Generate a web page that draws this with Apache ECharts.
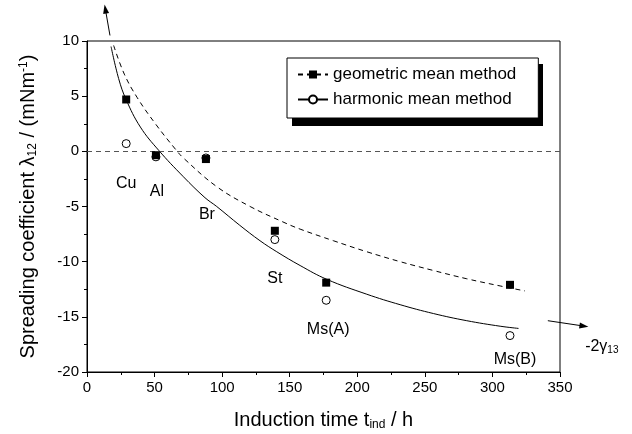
<!DOCTYPE html>
<html><head><meta charset="utf-8">
<script src="https://cdn.jsdelivr.net/npm/echarts@6/dist/echarts.min.js"></script>
<style>html,body{margin:0;padding:0;background:#fff}#c{width:632px;height:434px}</style>
</head><body><div id="c"></div>
<script>
// ---- data ----
const materials = ['Cu', 'Al', 'Br', 'St', 'Ms(A)', 'Ms(B)'];
const inductionTime = [29, 51, 88, 139, 177, 313];
const geometricValues = [4.7, -0.35, -0.7, -7.2, -11.9, -12.1];
const harmonicValues = [0.7, -0.5, -0.6, -8.0, -13.5, -16.7];

const geometricFitX = [19.7, 27.6, 37, 50.6, 65.4, 71.3, 96, 120.7, 145, 157.7, 182.3, 207, 231.7, 256.3, 281, 305.7, 324];
const geometricFitY = [9.6, 7.0, 4.9, 2.5, 0.2, -0.6, -3.2, -5.0, -6.4, -7.05, -8.1, -9.1, -10.0, -10.8, -11.55, -12.2, -12.65];
const harmonicFitX = [17.8, 23.4, 28.9, 39.5, 53, 71.3, 87.3, 96, 113, 128, 140.4, 157.7, 177.4, 207, 231.7, 256.3, 281, 305.7, 319.3];
const harmonicFitY = [9.5, 6.6, 4.7, 2.2, 0.1, -2.3, -4.2, -5.0, -6.7, -8.1, -9.1, -10.35, -11.6, -12.95, -13.9, -14.7, -15.35, -15.85, -16.05];

const xTicks = [0, 50, 100, 150, 200, 250, 300, 350];
const yTicks = [-20, -15, -10, -5, 0, 5, 10];

const seriesNames = ['geometric mean method', 'harmonic mean method'];

// ---- layout / style ----
const FONT = '"Liberation Sans", Arial, Helvetica, sans-serif';
const labelOffsets = [[0, 40], [1, 35], [1, 57], [0, 39], [2, 29], [5, 24]];

const zip = (xs, ys) => xs.map((x, i) => [x, ys[i]]);

const chart = echarts.init(document.getElementById('c'), null, {renderer: 'canvas'});

const axisCommon = {
  type: 'value',
  axisLine: {show: true, onZero: false, lineStyle: {color: '#000', width: 1}},
  axisTick: {show: true, inside: false, length: 5, lineStyle: {color: '#000'}},
  minorTick: {show: true, splitNumber: 2, length: 3, lineStyle: {color: '#000'}},
  splitLine: {show: false},
  minorSplitLine: {show: false},
  axisLabel: {color: '#000', fontFamily: FONT, fontSize: 15, margin: 8, hideOverlap: false}
};

chart.setOption({
  animation: false,
  backgroundColor: '#fff',
  grid: {left: 87, right: 72, top: 41, bottom: 62, show: true, borderColor: '#000', borderWidth: 1, backgroundColor: 'transparent', containLabel: false, outerBoundsMode: 'none'},
  xAxis: Object.assign({}, axisCommon, {
    min: xTicks[0], max: xTicks[xTicks.length - 1], interval: xTicks[1] - xTicks[0],
    name: 'Induction time t{sub|ind} / h',
    nameLocation: 'middle', nameGap: 38,
    nameTextStyle: {color: '#000', fontFamily: FONT, fontSize: 20, rich: {sub: {color: '#000', fontFamily: FONT, fontSize: 12, verticalAlign: 'bottom', padding: [9, 0, 0, 0]}}}
  }),
  yAxis: Object.assign({}, axisCommon, {
    min: yTicks[0], max: yTicks[yTicks.length - 1], interval: yTicks[1] - yTicks[0],
    name: 'Spreading coefficient λ{sub|12} / (mNm{sup|-1})',
    nameLocation: 'middle', nameGap: 48,
    nameTextStyle: {color: '#000', fontFamily: FONT, fontSize: 20, rich: {
      sub: {color: '#000', fontFamily: FONT, fontSize: 12, verticalAlign: 'bottom', padding: [9, 0, 0, 0]},
      sup: {color: '#000', fontFamily: FONT, fontSize: 12, verticalAlign: 'top', padding: [0, 0, 9, 0]}
    }}
  }),
  legend: {
    show: true,
    z: 5,
    data: seriesNames,
    left: 287, top: 58,
    orient: 'vertical',
    padding: [8, 22, 10, 10],
    itemWidth: 30, itemHeight: 10, itemGap: 8,
    backgroundColor: '#fff',
    borderColor: '#000', borderWidth: 1, borderRadius: 0,
    textStyle: {color: '#000', fontFamily: FONT, fontSize: 17},
    selectedMode: false
  },
  series: [
    {
      name: seriesNames[0], type: 'line', data: zip(geometricFitX, geometricFitY),
      smooth: 0.4, showSymbol: false, symbol: 'rect', symbolSize: 8,
      lineStyle: {color: '#000', width: 1, type: [5, 4]}, itemStyle: {color: '#000'},
      z: 3,
      markLine: {
        silent: true, symbol: 'none', label: {show: false},
        lineStyle: {color: '#555', width: 1, type: [5, 4]},
        data: [{yAxis: 0}]
      }
    },
    {
      name: seriesNames[1], type: 'line', data: zip(harmonicFitX, harmonicFitY),
      smooth: 0.4, showSymbol: false, symbol: 'emptyCircle', symbolSize: 8,
      lineStyle: {color: '#000', width: 1, type: 'solid'}, itemStyle: {color: '#000'},
      z: 3
    },
    {
      name: seriesNames[1], type: 'scatter', data: zip(inductionTime, harmonicValues),
      symbol: 'circle', symbolSize: 8,
      itemStyle: {color: '#fff', borderColor: '#000', borderWidth: 1, opacity: 1},
      z: 4,
      label: {
        show: true, position: 'inside', color: '#000', fontFamily: FONT, fontSize: 16,
        formatter: p => materials[p.dataIndex]
      },
      labelLayout: p => ({dx: labelOffsets[p.dataIndex][0], dy: labelOffsets[p.dataIndex][1]})
    },
    {
      name: seriesNames[0], type: 'scatter', data: zip(inductionTime, geometricValues),
      symbol: 'rect', symbolSize: 8,
      itemStyle: {color: '#000', opacity: 1},
      z: 5
    }
  ]
});

// ---- annotation arrows (placed through the chart's own scales) ----
function px(v) { return chart.convertToPixel({gridIndex: 0}, v); }
function arrow(p0, p1) {
  const dx = p1[0] - p0[0], dy = p1[1] - p0[1], L = Math.hypot(dx, dy);
  const ux = dx / L, uy = dy / L, hl = 9, hw = 3;
  const bx = p1[0] - ux * hl, by = p1[1] - uy * hl;
  return [
    {type: 'polyline', silent: true, shape: {points: [p0, [bx + ux * 2, by + uy * 2]]}, style: {stroke: '#000', lineWidth: 1, fill: null}},
    {type: 'polygon', silent: true, shape: {points: [p1, [bx - uy * hw, by + ux * hw], [bx + uy * hw, by - ux * hw]]}, style: {fill: '#000'}}
  ];
}
const topArrow = arrow(px([17, 10.5]), px([13, 13.3]));
const rightArrow = arrow(px([341, -15.35]), px([371, -15.9]));
const gLabel = px([368.6, -17.7]);
chart.setOption({
  graphic: topArrow.concat(rightArrow).concat([
    // legend drop shadow
    {type: 'rect', silent: true, z: 3, shape: {x: 292, y: 64, width: 251, height: 62}, style: {fill: '#000'}},
    {
      type: 'text', silent: true, x: gLabel[0], y: gLabel[1],
      style: {
        text: '-2γ{s|13}', fill: '#000', fontFamily: FONT, fontSize: 16,
        align: 'left', verticalAlign: 'middle',
        rich: {s: {fill: '#000', fontFamily: FONT, fontSize: 10, verticalAlign: 'bottom', padding: [7, 0, 0, 0]}}
      }
    }
  ])
});
</script>
</body></html>
